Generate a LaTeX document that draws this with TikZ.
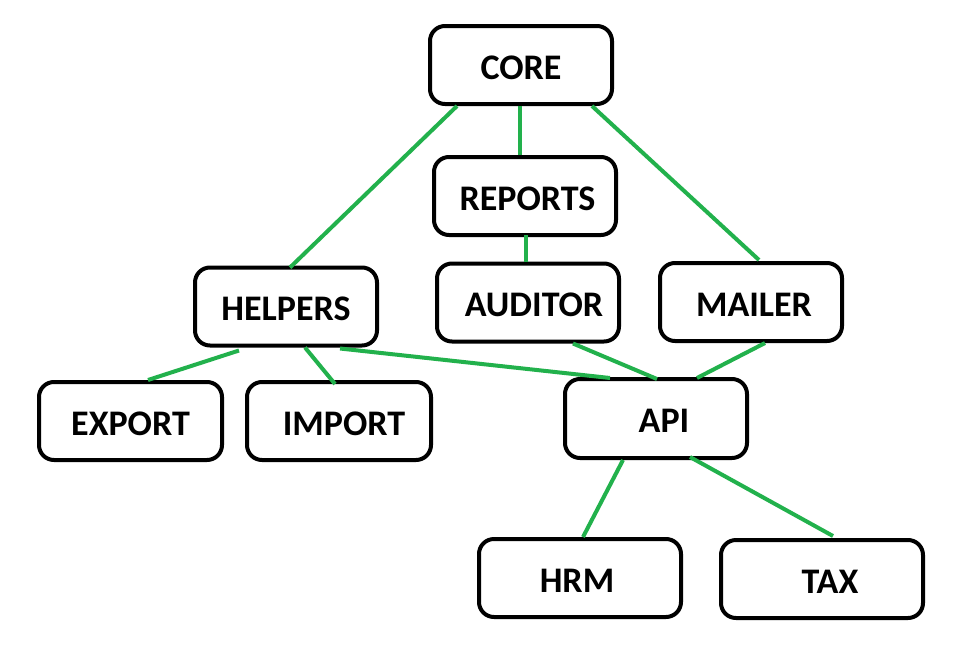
\documentclass[tikz,border=0pt]{standalone}
\usepackage{fontspec}
\setmainfont{Carlito}
\usepackage{tikz}
\definecolor{paintgreen}{RGB}{34,177,76}

\begin{document}
\begin{tikzpicture}[x=1pt, y=-1pt,
		box/.style={draw=black, line width=4pt, rounded corners=15pt, fill=white,
			minimum width=182pt, minimum height=78pt, inner sep=0pt,
			text height=28pt, text depth=0pt,
			font=\bfseries\fontsize{36}{40}\selectfont},
		wide/.style={box, minimum width=202pt},
		link/.style={draw=paintgreen, line width=4pt}]
		%%%%% START %%%%%
		
		\useasboundingbox[fill=white] (0, 0) rectangle (959, 662);
		
		\node[box] (core) at (521, 65) {CORE};
		\node[box] (reports) at (525, 196) {\hspace*{5pt}REPORTS};
		\node[box] (helpers) at (286, 306.5) {HELPERS};
		\node[box] (auditor) at (528, 302.5) {\hspace*{12pt}AUDITOR};
		\node[box] (mailer) at (751, 302) {\hspace*{6pt}MAILER};
		
		\node[box, minimum width=183pt] (export) at (130.5, 421) {EXPORT};
		\node[box, minimum width=184pt] (import) at (339, 421) {\hspace*{10pt}IMPORT};
		\node[box, minimum height=79pt] (api) at (656, 418.5) {\hspace*{16pt}API};
		
		\node[wide] (hrm) at (580, 578) {HRM\hspace*{6pt}};
		\node[wide] (tax) at (822, 579) {\hspace*{16pt}TAX};
		
		\draw[link] ([xshift=-64]core.south) -- ([xshift=4, yshift=-2]helpers.north);
		\draw[link] ([xshift=-1]core.south) -- ([xshift=-5]reports.north);
		\draw[link] ([xshift=71]core.south) -- ([xshift=8, yshift=1]mailer.north);
		\draw[link] ([xshift=1, yshift=2]reports.south) -- ([xshift=-2]auditor.north);
		
		\draw[link] ([xshift=-47, yshift=-3]helpers.south) -- ([xshift=17.5]export.north);
		\draw[link] ([xshift=19]helpers.south) -- ([xshift=-4, yshift=-4]import.north);
		\draw[link] ([xshift=54, yshift=-1]helpers.south) -- ([xshift=-46, yshift=-1]api.north);
		\draw[link] ([xshift=45]auditor.south) -- ([xshift=1, yshift=-2]api.north);
		\draw[link] ([xshift=14]mailer.south) -- ([xshift=41, yshift=-1]api.north);
		
		\draw[link] ([xshift=-33]api.south) -- ([xshift=3]hrm.north);
		\draw[link] ([xshift=34, yshift=3]api.south) -- ([xshift=11, yshift=2]tax.north);
		
		%%%%% END %%%%%
	\end{tikzpicture}
\end{document}
